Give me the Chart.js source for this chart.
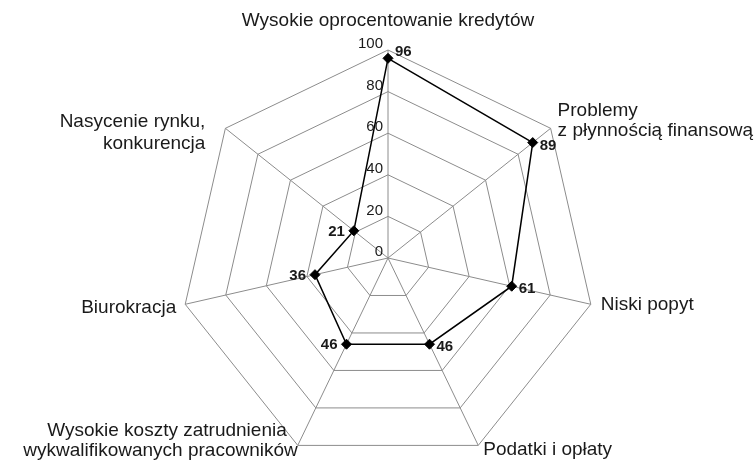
<!DOCTYPE html>
<html>
<head>
<meta charset="utf-8">
<script src="https://cdn.jsdelivr.net/npm/chart.js@4.4.0/dist/chart.umd.min.js"></script>
<style>
  html, body { margin: 0; padding: 0; background: #fff; }
  #wrap { width: 756px; height: 471px; }
</style>
</head>
<body>
<div id="wrap"><canvas id="radar"></canvas></div>
<script>
const categories = [
  "Wysokie oprocentowanie kredytów",
  ["Problemy", "z płynnością finansową"],
  "Niski popyt",
  "Podatki i opłaty",
  ["Wysokie koszty zatrudnienia", "wykwalifikowanych pracowników"],
  "Biurokracja",
  ["Nasycenie rynku,", "konkurencja"],
];
const values = [96, 89, 61, 46, 46, 36, 21];
const tickValues = [0, 20, 40, 60, 80, 100];

const FONT = "'Liberation Sans', Arial, sans-serif";
const TEXT = "#1a1a1a";
const GRID = "#8c8c8c";

// where each category label sits relative to its outer vertex
// (align, dx, dy, line height, extra dx per line)
const labelNudge = [
  ["center", 0, -29, 20, [0]],
  ["left", 7, -8, 20, [0, 0]],
  ["left", 10, 0, 20, [0]],
  ["left", 5, 4, 20, [0]],
  ["right", 0, -5, 20, [-11, 0]],
  ["right", -9, 3, 20, [0]],
  ["right", -20, 4, 22, [0, 0]],
];

// text is drawn by hand so it lands where the original spreadsheet put it
const textPlugin = {
  id: "radarText",
  afterDraw(chart) {
    const ctx = chart.ctx;
    const scale = chart.scales.r;
    const cx = scale.xCenter;
    const cy = scale.yCenter;
    ctx.save();
    ctx.fillStyle = TEXT;
    ctx.textBaseline = "middle";

    // tick numbers left of the vertical axis
    ctx.font = "15px " + FONT;
    ctx.textAlign = "right";
    tickValues.forEach(v => {
      const y = cy - scale.getDistanceFromCenterForValue(v);
      ctx.fillText(String(v), cx - 5, y - 6);
    });

    // category labels
    ctx.font = "19px " + FONT;
    categories.forEach((label, i) => {
      const lines = [].concat(label);
      const p = scale.getPointPosition(i, scale.drawingArea);
      const [align, dx, dy, lh, lineDx] = labelNudge[i];
      ctx.textAlign = align;
      lines.forEach((line, k) => {
        const y = p.y + dy + (k - (lines.length - 1) / 2) * lh;
        ctx.fillText(line, p.x + dx + (lineDx[k] || 0), y);
      });
    });

    // value labels next to the markers
    ctx.font = "bold 15px " + FONT;
    const meta = chart.getDatasetMeta(0);
    meta.data.forEach((pt, i) => {
      const v = values[i];
      if (Math.abs(pt.x - cx) < 3) {
        ctx.textAlign = "left";
        ctx.fillText(String(v), pt.x + 7, pt.y - 6);
      } else if (pt.x > cx) {
        ctx.textAlign = "left";
        ctx.fillText(String(v), pt.x + 7, pt.y + 3);
      } else {
        ctx.textAlign = "right";
        ctx.fillText(String(v), pt.x - 9, pt.y + 1);
      }
    });
    ctx.restore();
  }
};

new Chart(document.getElementById("radar"), {
  type: "radar",
  data: {
    labels: categories,
    datasets: [{
      data: values,
      borderColor: "#000",
      borderWidth: 1.5,
      fill: false,
      pointStyle: "rectRot",
      pointRadius: 5,
      pointBackgroundColor: "#000",
      pointBorderColor: "#000",
      pointBorderWidth: 1,
    }],
  },
  options: {
    responsive: true,
    maintainAspectRatio: false,
    animation: false,
    layout: { padding: { top: 50, bottom: 5, left: 180, right: 160 } },
    plugins: {
      legend: { display: false },
      tooltip: { enabled: false },
    },
    scales: {
      r: {
        min: 0,
        max: 100,
        ticks: { display: false, stepSize: 20 },
        pointLabels: { display: false },
        grid: { color: GRID, lineWidth: 1 },
        angleLines: { color: GRID, lineWidth: 1 },
      },
    },
  },
  plugins: [textPlugin],
});
</script>
</body>
</html>
